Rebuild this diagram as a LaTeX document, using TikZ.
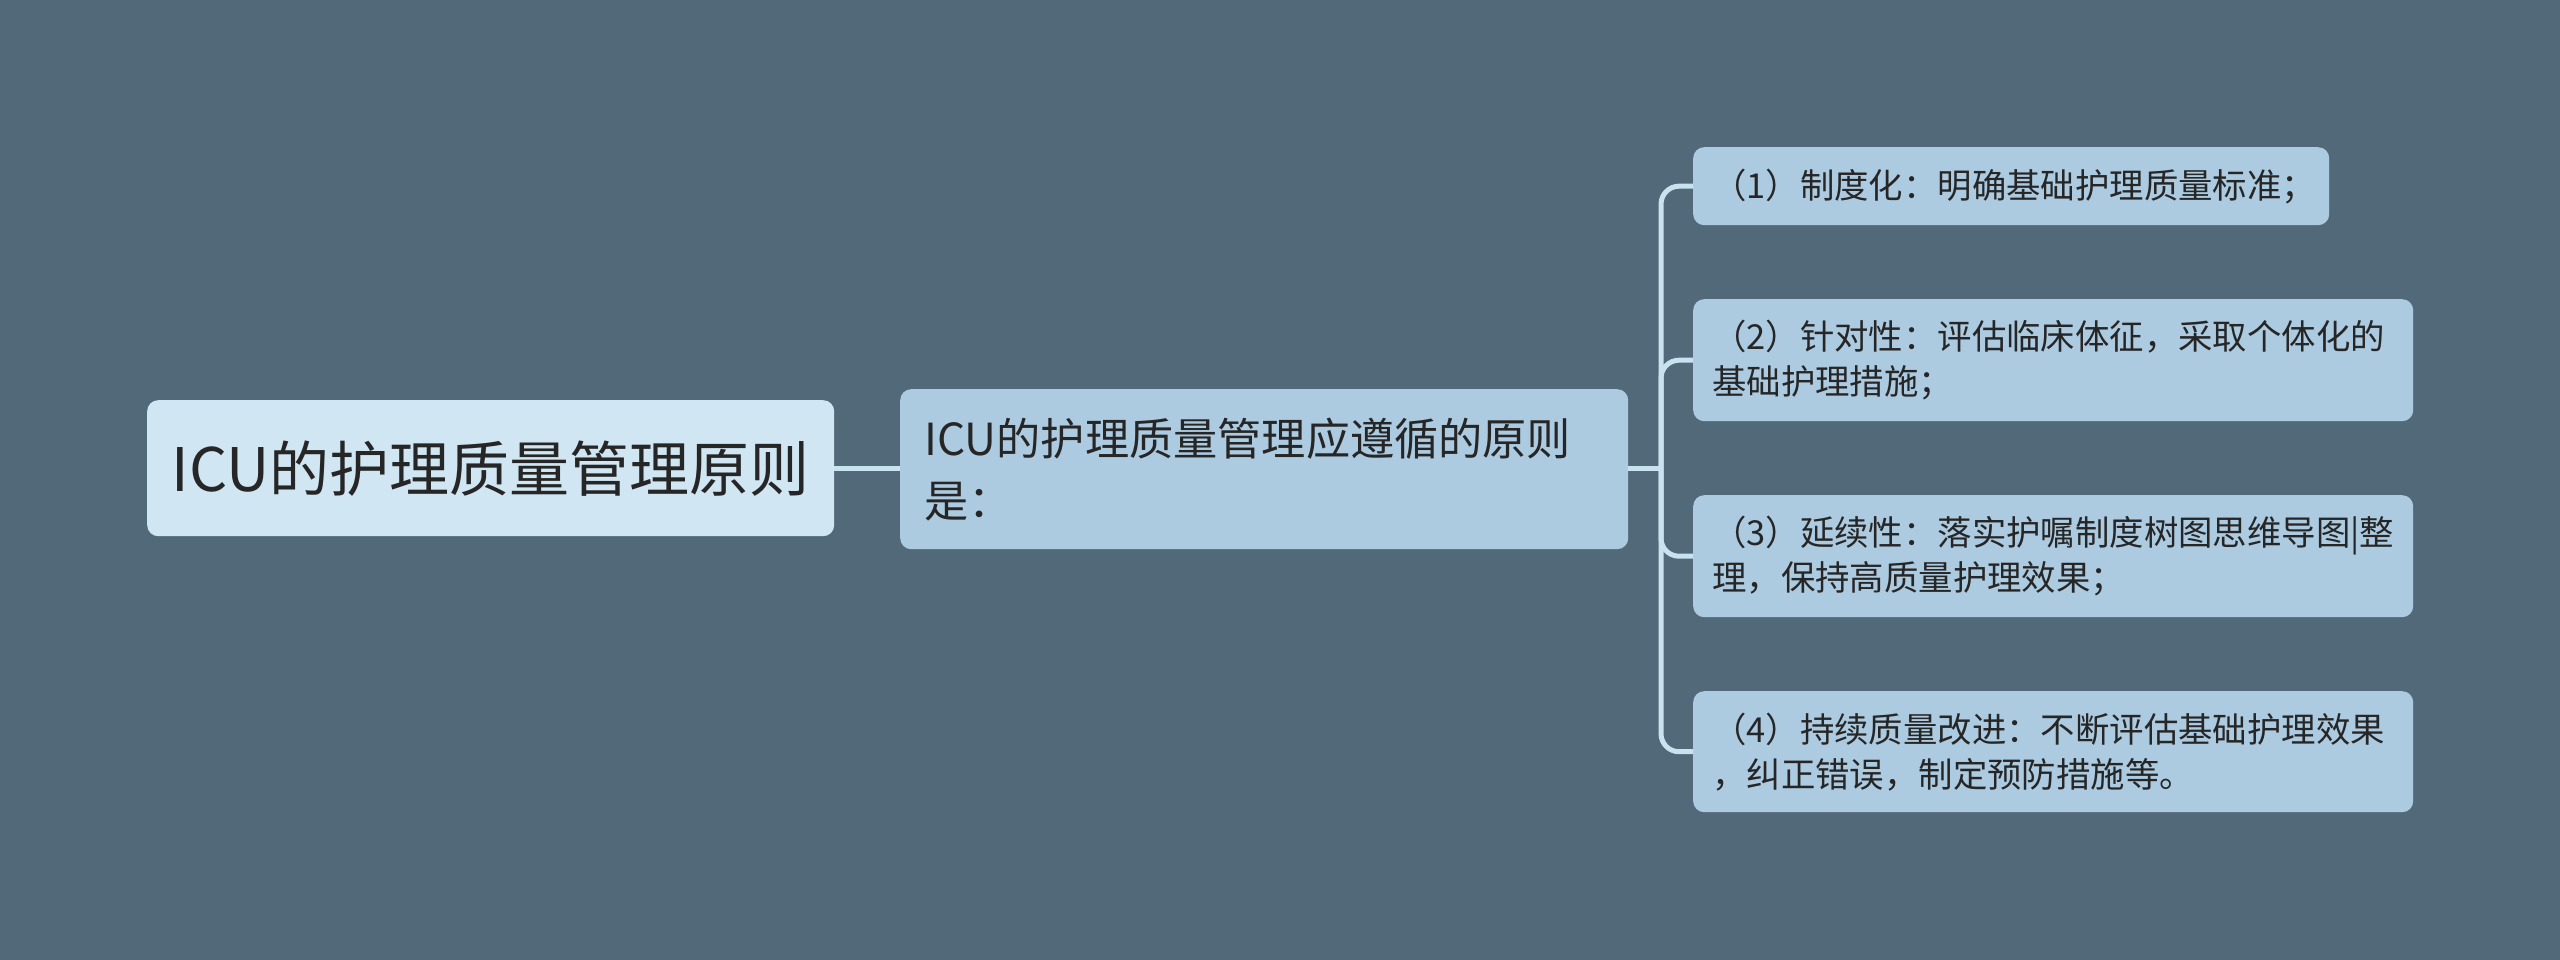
\documentclass[tikz,border=0pt]{standalone}
\usepackage{fontspec}
\setmainfont{Noto Sans CJK SC}
\definecolor{bgc}{RGB}{82,105,121}
\definecolor{rootc}{RGB}{208,230,242}
\definecolor{leafc}{RGB}{172,203,225}
\definecolor{txtc}{RGB}{38,38,38}
\definecolor{linec}{RGB}{200,226,240}
\tikzset{
  box/.style={anchor=north west, rounded corners=11pt, text=txtc, inner ysep=0pt},
  rootbox/.style={box, fill=rootc, minimum width=687pt, minimum height=136pt, inner xsep=0pt, align=center,
    font=\fontsize{60}{72}\selectfont},
  subbox/.style={box, fill=leafc, minimum height=160pt, inner xsep=24pt, text width=680pt, align=left,
    font=\fontsize{44.2}{62}\selectfont},
  leafbox/.style={box, fill=leafc, inner xsep=19pt, align=left,
    font=\fontsize{34.4}{45}\selectfont},
  conn/.style={draw=linec, line width=5pt, rounded corners=18pt},
}
\begin{document}
\begin{tikzpicture}[x=1pt,y=-1pt]
\fill[bgc] (0,0) rectangle (2560,960);
\useasboundingbox (0,0) rectangle (2560,960);
\node[rootbox] (root) at (147,400) {ICU的护理质量管理原则};
\node[subbox] (sub) at (900,389) {ICU的护理质量管理应遵循的原则\\是：};
\node[leafbox, text width=598pt, minimum height=78pt] (l1) at (1693,147) {（1）制度化：明确基础护理质量标准；};
\node[leafbox, text width=682pt, minimum height=122pt] (l2) at (1693,299) {（2）针对性：评估临床体征，采取个体化的\\基础护理措施；};
\node[leafbox, text width=682pt, minimum height=122pt] (l3) at (1693,495) {（3）延续性：落实护嘱制度树图思维导图|整\\理，保持高质量护理效果；};
\node[leafbox, text width=682pt, minimum height=121pt] (l4) at (1693,691) {（4）持续质量改进：不断评估基础护理效果\\，纠正错误，制定预防措施等。};
\coordinate (spine) at (1661,468);
\draw[conn] (root.east) -- (root.east -| sub.west);
\draw[conn] (sub.east |- spine) -- (spine);
\foreach \n in {l1,l2,l3,l4} {
  \draw[conn] (spine) |- (\n.west);
}
\end{tikzpicture}
\end{document}
